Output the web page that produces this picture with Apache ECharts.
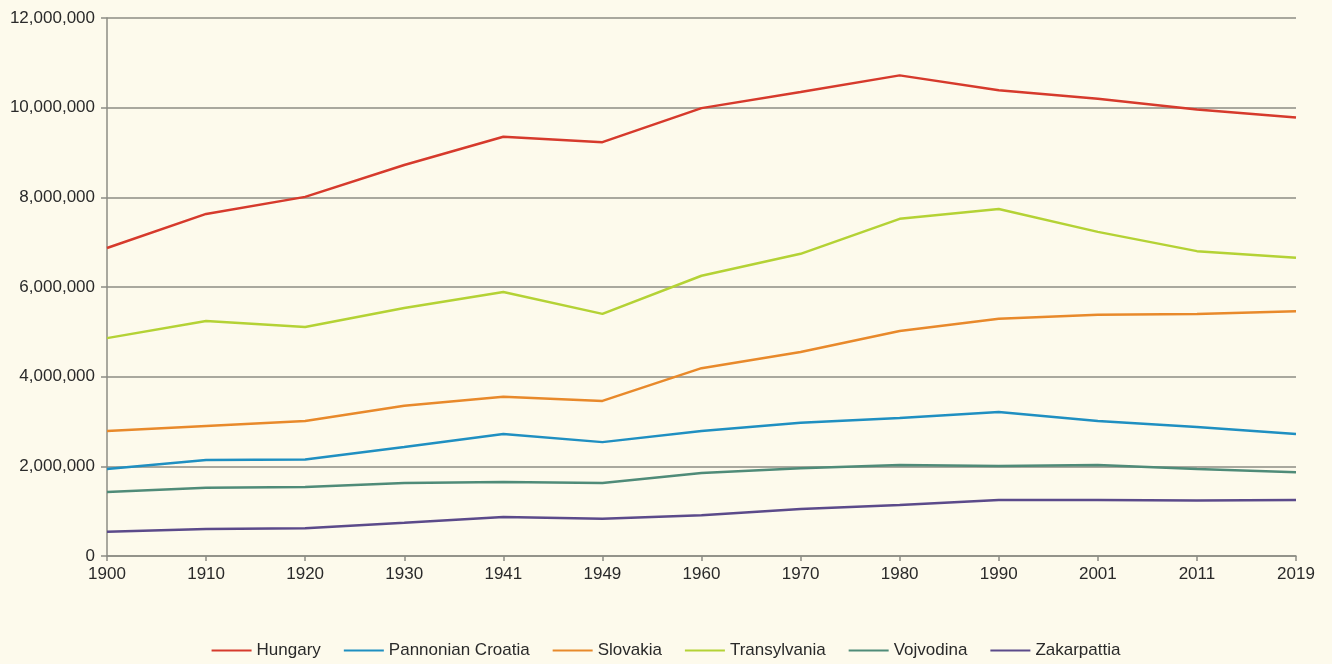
<!DOCTYPE html>
<html>
<head>
<meta charset="utf-8">
<script src="https://cdn.jsdelivr.net/npm/echarts@6/dist/echarts.min.js"></script>
<style>
  html, body { margin: 0; padding: 0; background: #fdfaec; }
  #chart { width: 1332px; height: 664px; }
</style>
</head>
<body>
<div id="chart"></div>
<script>
const years = ['1900', '1910', '1920', '1930', '1941', '1949', '1960', '1970', '1980', '1990', '2001', '2011', '2019']

const hungary = [6870000, 7630000, 8010000, 8720000, 9350000, 9230000, 9990000, 10350000, 10720000, 10390000, 10200000, 9960000, 9780000]
const pannonianCroatia = [1940000, 2140000, 2150000, 2430000, 2720000, 2540000, 2790000, 2970000, 3080000, 3210000, 3010000, 2880000, 2720000]
const slovakia = [2790000, 2900000, 3010000, 3350000, 3550000, 3460000, 4190000, 4550000, 5020000, 5290000, 5380000, 5400000, 5460000]
const transylvania = [4860000, 5240000, 5110000, 5530000, 5890000, 5400000, 6250000, 6740000, 7520000, 7740000, 7230000, 6800000, 6650000]
const vojvodina = [1430000, 1520000, 1540000, 1630000, 1650000, 1630000, 1850000, 1960000, 2030000, 2010000, 2030000, 1940000, 1870000]
const zakarpattia = [540000, 600000, 620000, 740000, 870000, 830000, 910000, 1050000, 1140000, 1250000, 1250000, 1240000, 1250000]

const seriesDefs = [
  { name: 'Hungary', data: hungary, color: '#d63a2c' },
  { name: 'Pannonian Croatia', data: pannonianCroatia, color: '#1f8fc1' },
  { name: 'Slovakia', data: slovakia, color: '#e8892b' },
  { name: 'Transylvania', data: transylvania, color: '#b4d235' },
  { name: 'Vojvodina', data: vojvodina, color: '#4f8b78' },
  { name: 'Zakarpattia', data: zakarpattia, color: '#5b4a8a' },
]

const font = '"Liberation Sans", Arial, sans-serif'
const axisGray = '#8c8c84'

const chart = echarts.init(document.getElementById('chart'))

chart.setOption({
  backgroundColor: '#fdfaec',
  animation: false,
  textStyle: { fontFamily: font },
  grid: { left: 107, right: 36, top: 18, bottom: 108, containLabel: false, outerBoundsMode: 'none' },
  legend: {
    bottom: 0,
    left: 'center',
    icon: 'rect',
    itemWidth: 40,
    itemHeight: 2,
    itemGap: 23,
    textStyle: { fontFamily: font, fontSize: 17, color: '#2a2a2a' },
    data: seriesDefs.map((s) => s.name),
  },
  xAxis: {
    type: 'category',
    data: years,
    boundaryGap: false,
    axisLine: { lineStyle: { color: axisGray, width: 1.5 } },
    axisTick: { show: true, length: 5, lineStyle: { color: axisGray, width: 1.5 } },
    axisLabel: { color: '#2a2a2a', fontSize: 17, fontFamily: font, margin: 10 },
    splitLine: { show: false },
  },
  yAxis: {
    type: 'value',
    min: 0,
    max: 12000000,
    interval: 2000000,
    axisLine: { show: true, lineStyle: { color: axisGray, width: 1.5 } },
    axisTick: { show: true, length: 6, lineStyle: { color: axisGray, width: 1.5 } },
    axisLabel: {
      color: '#2a2a2a',
      fontSize: 17,
      fontFamily: font,
      margin: 12,
      formatter: (v) => v.toLocaleString('en-US'),
    },
    splitLine: { lineStyle: { color: axisGray, width: 1.5 } },
  },
  series: seriesDefs.map((s) => ({
    name: s.name,
    type: 'line',
    data: s.data,
    symbol: 'none',
    color: s.color,
    lineStyle: { color: s.color, width: 2.5 },
  })),
})
</script>
</body>
</html>
